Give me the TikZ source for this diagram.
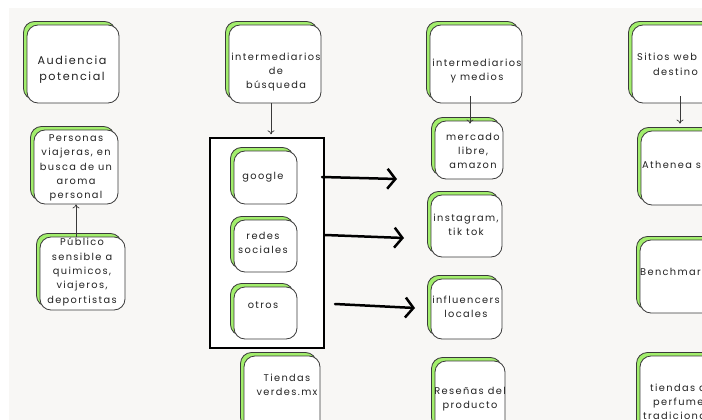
\documentclass[tikz,border=0pt]{standalone}
\usepackage{fontspec}
\usetikzlibrary{arrows.meta,shadows,calc}
\newfontfamily\popp{Poppins}[LetterSpace=14]
\definecolor{bgc}{HTML}{F8F7F5}
\definecolor{cardgreen}{HTML}{A2EE6C}
\definecolor{cardline}{HTML}{3A3A3A}
\definecolor{txtc}{HTML}{222222}
\tikzset{
 card/.style={draw=cardline, line width=0.8pt, fill=white, rounded corners=11pt, inner sep=0pt,
   general shadow={shadow xshift=-3.5pt, shadow yshift=3.5pt, fill=cardgreen, draw=cardline, line width=0.8pt}},
 txt/.style={align=center, inner sep=0pt, text=txtc, font=\popp\fontsize{9.8}{14.3}\selectfont},
 bigtxt/.style={txt, font=\popp\fontsize{11.2}{16}\selectfont},
 thinarr/.style={-{To[length=4pt,width=7pt]}, line width=0.7pt, draw=cardline},
 bigarr/.style={-{Straight Barb[length=8pt,width=20pt]}, line width=2.5pt, line cap=round, line join=round},
}
\newcommand\mycard[5]{\node[card,minimum width={(#4-(#2))*1pt},minimum height={(#5-(#3))*1pt}] (#1) at ({(#2+#4)/2},{(#3+#5)/2}) {};}
\begin{document}
\begin{tikzpicture}[x=1pt,y=-1pt]
\useasboundingbox (0,0) rectangle (702,420);
\clip (0,0) rectangle (702,420);
\fill[white] (0,0) rectangle (702,420);
\fill[bgc] (9,8) rectangle (702,420);

% column 1
\mycard{aud}{27}{25}{119}{103}
\node[bigtxt] (aud-t) at (72,70) {Audiencia\\potencial};
\mycard{pers}{34}{130}{118}{204}
\node[txt] (pers-t) at (76,168) {Personas\\viajeras, en\\busca de un\\aroma\\personal};
\mycard{pub}{40}{237}{125}{310}
\node[txt] (pub-t) at (82,272) {Público\\sensible a\\quimicos,\\viajeros,\\deportistas};
\draw[thinarr] (pers.south |- pub.north) -- (pers.south);

% column 2
\mycard{ib}{229}{25}{321}{103}
\node[txt] (ib-t) at (276,72) {intermediarios\\de\\búsqueda};
\node[draw=black, line width=1.3pt, fill=white, minimum width=114pt, minimum height=210pt, inner sep=0pt] (big) at (267,243) {};
\draw[thinarr] (ib.south -| 271,0) -- ([yshift=3pt]big.north -| 271,0);
\mycard{google}{234}{151}{297}{204}
\node[txt] (google-t) at (263,177) {google};
\mycard{redes}{234}{220}{297}{272}
\node[txt] (redes-t) at (263,243) {redes\\sociales};
\mycard{otros}{234}{287}{297}{339}
\node[txt] (otros-t) at (263,305) {otros};
\mycard{tv}{244}{356}{320}{432}
\node[txt] (tv-t) at (287,385) {Tiendas\\verdes.mx};

% column 3
\mycard{iym}{430}{25}{522}{103}
\node[txt] (iym-t) at (477,71) {intermediarios\\y medios};
\mycard{merc}{435}{121}{503}{179}
\node[txt] (merc-t) at (473,151) {mercado\\libre,\\amazon};
\draw[thinarr] ([yshift=7pt]iym.south -| 470,0) -- ([yshift=-3pt]merc.north -| 470,0);
\mycard{insta}{431}{195}{502}{257}
\node[txt] (insta-t) at (466,225) {instagram,\\tik tok};
\mycard{influ}{431}{279}{502}{339}
\node[txt] (influ-t) at (466,307) {influencers\\locales};
\mycard{res}{435}{361}{505}{432}
\node[txt] (res-t) at (470,399) {Reseñas del\\producto};

% thick arrows
\coordinate (g1) at (322,177); \coordinate (g2) at (397,179);
\coordinate (r1) at (325,235); \coordinate (r2) at (404,238);
\coordinate (o1) at (335,304); \coordinate (o2) at (415,308);
\draw[bigarr] (g1) -- (g2);
\draw[bigarr] (r1) -- (r2);
\draw[bigarr] (o1) -- (o2);

% column 4 (cut at right edge)
\mycard{sit}{632}{25}{740}{103}
\node[txt, anchor=west] (sit-t1) at (637,57) {Sitios web};
\node[txt, anchor=west] (sit-t2) at (653,72) {destino};
\mycard{ath}{641}{131}{740}{205}
\draw[thinarr] ([yshift=7pt]sit.south -| 680,0) -- ([yshift=7pt]ath.north -| 680,0);
\node[txt, anchor=west] (ath-t) at (642,165) {Athenea s};
\mycard{bench}{640}{240}{740}{313}
\node[txt, anchor=west] (bench-t) at (640,272) {Benchmar};
\mycard{trad}{640}{356}{740}{440}
\node[txt, anchor=west] (trad-t1) at (650,388) {tiendas d};
\node[txt, anchor=west] (trad-t2) at (653,403) {perfume};
\node[txt, anchor=west] (trad-t3) at (643,416) {tradiciona};
\end{tikzpicture}
\end{document}
